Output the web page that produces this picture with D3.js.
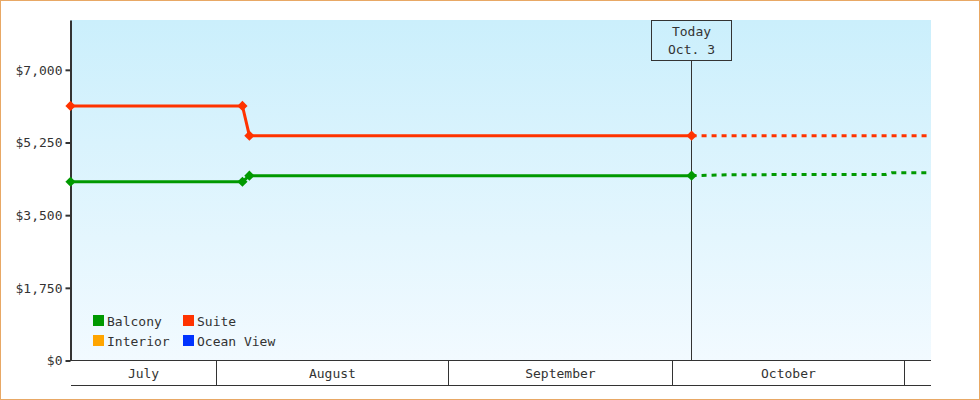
<!DOCTYPE html>
<html>
<head>
<meta charset="utf-8">
<script src="https://cdn.jsdelivr.net/npm/d3@7"></script>
<style>
  body { margin: 0; background: #fff; }
  svg text { font-family: "DejaVu Sans Mono", monospace; font-size: 13px; fill: #333; }
</style>
</head>
<body>
<div id="chart"></div>
<script>
var parse = d3.utcParse("%Y-%m-%d %H:%M");

// x domain and month bands
var xDomain = ["2015-07-12 11:00", "2015-11-04 13:40"];
var monthStarts = ["2015-07-01 00:00", "2015-08-01 00:00", "2015-09-01 00:00", "2015-10-01 00:00", "2015-11-01 00:00"];
var monthLabels = ["July", "August", "September", "October", ""];

// y axis
var yMax = 8200;
var yTicks = [0, 1750, 3500, 5250, 7000];

// history
var historyDates = ["2015-07-12 11:00", "2015-08-04 11:00", "2015-08-05 09:20", "2015-10-03 13:00"];
var suiteValues = [6130, 6130, 5415, 5415];
var balconyValues = [4305, 4305, 4450, 4450];

// forecast
var suiteForecastDates = ["2015-10-03 13:00", "2015-11-04 13:40"];
var suiteForecastValues = [5415, 5415];
var balconyForecastDates = ["2015-10-03 13:00", "2015-10-08 12:00", "2015-10-29 12:00", "2015-10-30 08:00", "2015-11-04 13:40"];
var balconyForecastValues = [4450, 4475, 4480, 4523, 4523];

var today = "2015-10-03 13:00";
var todayLabel = ["Today", "Oct. 3"];

var legendNames = ["Balcony", "Suite", "Interior", "Ocean View"];
var legendColors = ["#009900", "#ff3300", "#ffa500", "#0033ff"];

var width = 980, height = 400;
var plot = { left: 70.5, right: 931, top: 20, bottom: 360.5 };

var svg = d3.select("#chart").append("svg")
  .attr("width", width)
  .attr("height", height);

var defs = svg.append("defs");
var grad = defs.append("linearGradient")
  .attr("id", "bg")
  .attr("x1", 0).attr("y1", 0).attr("x2", 0).attr("y2", 1);
grad.append("stop").attr("offset", "0%").attr("stop-color", "#cbeffc");
grad.append("stop").attr("offset", "100%").attr("stop-color", "#f2faff");

svg.append("rect")
  .attr("x", 0.5).attr("y", 0.5)
  .attr("width", width - 1).attr("height", height - 1)
  .attr("fill", "#fff")
  .attr("stroke", "#e8a865");

var x = d3.scaleUtc()
  .domain(xDomain.map(parse))
  .range([plot.left, plot.right]);

var y = d3.scaleLinear()
  .domain([0, yMax])
  .range([plot.bottom, plot.top]);

svg.append("rect")
  .attr("x", plot.left)
  .attr("y", plot.top)
  .attr("width", plot.right - plot.left)
  .attr("height", plot.bottom - plot.top)
  .attr("fill", "url(#bg)");

// x axis band
var band = svg.append("g").attr("class", "x-band")
  .attr("stroke", "#333").attr("shape-rendering", "crispEdges");
band.append("line")
  .attr("x1", plot.left).attr("x2", plot.right)
  .attr("y1", plot.bottom).attr("y2", plot.bottom);
band.append("line")
  .attr("x1", plot.left).attr("x2", plot.right)
  .attr("y1", plot.bottom + 25).attr("y2", plot.bottom + 25);

var months = monthStarts.map(parse);
months.forEach(function(m, i) {
  var mx = x(m);
  if (mx > plot.left && mx < plot.right) {
    band.append("line")
      .attr("x1", mx).attr("x2", mx)
      .attr("y1", plot.bottom).attr("y2", plot.bottom + 25);
  }
  var next = i + 1 < months.length ? x(months[i + 1]) : plot.right;
  var a = Math.max(mx, plot.left), b = Math.min(next, plot.right);
  if (monthLabels[i] && b > a) {
    svg.append("text")
      .attr("x", (a + b) / 2)
      .attr("y", plot.bottom + 17)
      .attr("text-anchor", "middle")
      .text(monthLabels[i]);
  }
});

// today marker
var tx = Math.floor(x(parse(today))) + 0.5;
svg.append("line")
  .attr("x1", tx).attr("x2", tx)
  .attr("y1", 60.5).attr("y2", plot.bottom)
  .attr("stroke", "#333")
  .attr("shape-rendering", "crispEdges");
svg.append("rect")
  .attr("x", tx - 40).attr("y", 20.5)
  .attr("width", 80).attr("height", 40)
  .attr("fill", "none")
  .attr("stroke", "#333")
  .attr("shape-rendering", "crispEdges");
svg.selectAll(".today-label")
  .data(todayLabel)
  .enter().append("text")
  .attr("class", "today-label")
  .attr("x", tx)
  .attr("y", function(d, i) { return 36 + i * 18; })
  .attr("text-anchor", "middle")
  .text(function(d) { return d; });

// y axis
var yAxis = d3.axisLeft(y)
  .tickValues(yTicks)
  .tickSize(5)
  .tickSizeOuter(0)
  .tickPadding(3)
  .tickFormat(function(d) { return "$" + d3.format(",")(d); });

var yg = svg.append("g")
  .attr("transform", "translate(" + plot.left + ",0)")
  .call(yAxis);
yg.select(".domain").attr("stroke", "#333").attr("stroke-width", 2);
yg.selectAll(".tick line").attr("stroke", "#333").attr("stroke-width", 2);
yg.selectAll(".tick text")
  .attr("font-family", null).attr("font-size", null);

// series
var line = d3.line()
  .x(function(d) { return x(d.date); })
  .y(function(d) { return y(d.value); });

function pairs(dates, values) {
  return dates.map(function(d, i) { return { date: parse(d), value: values[i] }; });
}

var series = [
  { color: legendColors[0], history: pairs(historyDates, balconyValues), forecast: pairs(balconyForecastDates, balconyForecastValues) },
  { color: legendColors[1], history: pairs(historyDates, suiteValues), forecast: pairs(suiteForecastDates, suiteForecastValues) }
];

var diamond = d3.symbol().type(d3.symbolSquare).size(52);

series.forEach(function(s) {
  svg.append("path")
    .datum(s.forecast)
    .attr("d", line)
    .attr("fill", "none")
    .attr("stroke", s.color)
    .attr("stroke-width", 3)
    .attr("stroke-dasharray", "5,5");

  svg.append("path")
    .datum(s.history)
    .attr("d", line)
    .attr("fill", "none")
    .attr("stroke", s.color)
    .attr("stroke-width", 3);

  svg.selectAll(null)
    .data(s.history)
    .enter().append("path")
    .attr("d", diamond)
    .attr("transform", function(d) {
      return "translate(" + x(d.date) + "," + y(d.value) + ") rotate(45)";
    })
    .attr("fill", s.color);
});

// legend
var legend = svg.append("g").attr("transform", "translate(93,315)");
var items = legend.selectAll("g")
  .data(legendNames)
  .enter().append("g")
  .attr("transform", function(d, i) {
    return "translate(" + (i % 2) * 90 + "," + Math.floor(i / 2) * 20 + ")";
  });
items.append("rect")
  .attr("width", 11).attr("height", 11)
  .attr("fill", function(d, i) { return legendColors[i]; });
items.append("text")
  .attr("x", 14)
  .attr("y", 11)
  .text(function(d) { return d; });
</script>
</body>
</html>
